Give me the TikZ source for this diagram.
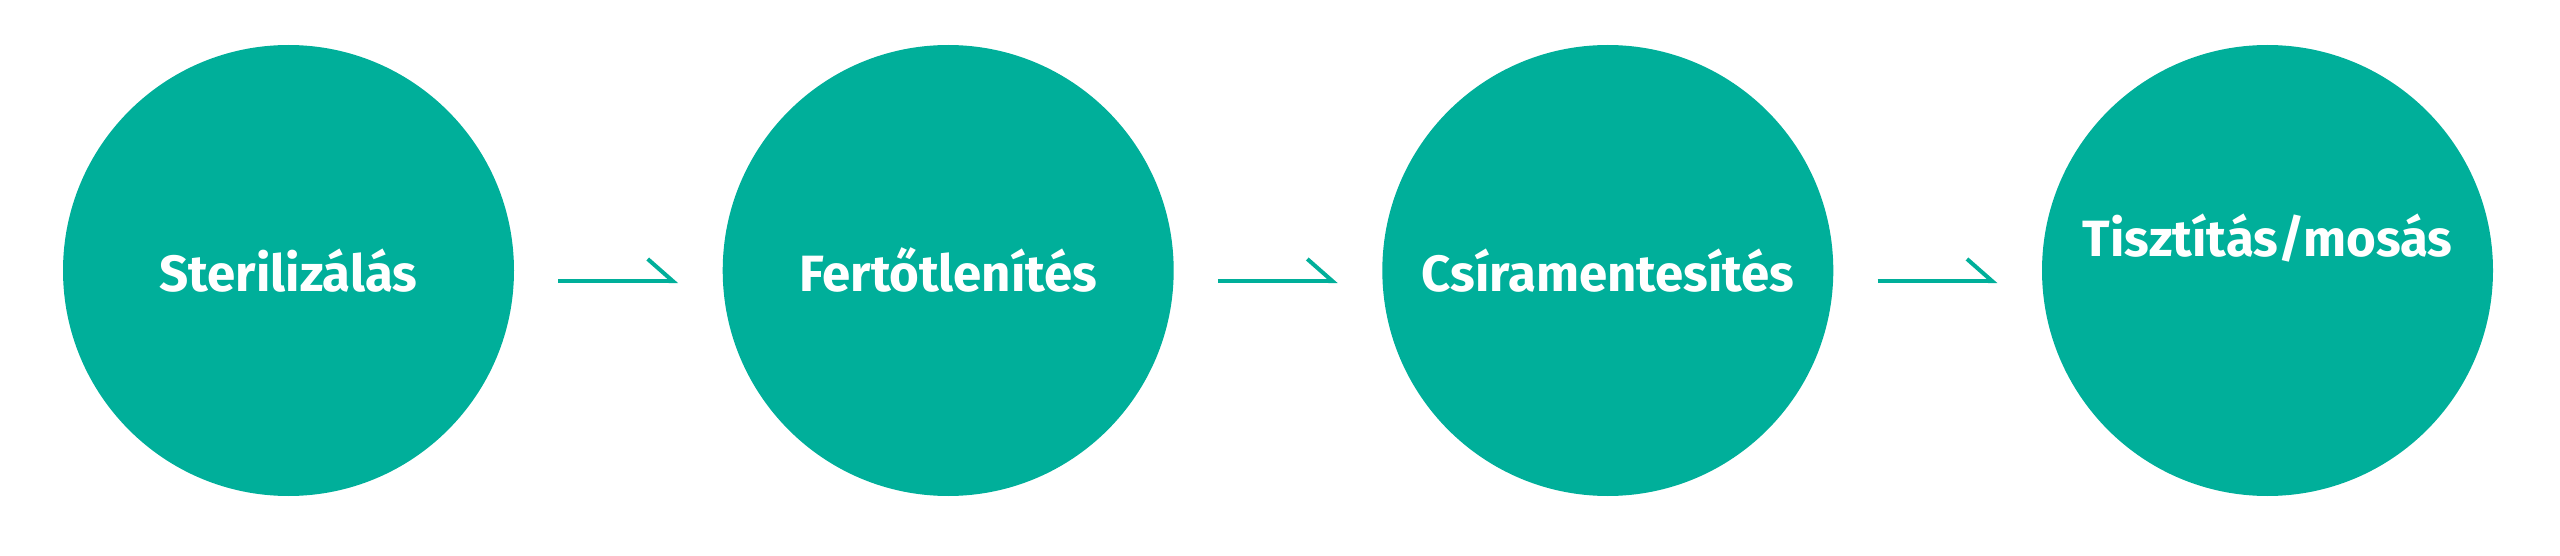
\documentclass[tikz,border=0pt]{standalone}
\usepackage{fontspec}
\setmainfont{Fira Sans}
\usetikzlibrary{arrows.meta}
\definecolor{stepteal}{RGB}{0,175,154}
\tikzset{
  stepdisc/.style={circle, fill=stepteal, minimum size=451pt, inner sep=0pt},
  steplabel/.style={font=\fontsize{51}{55}\selectfont\bfseries, text=white, anchor=base, inner sep=0pt},
  flow/.style={draw=stepteal, line width=4pt, -{Straight Barb[left, length=25pt, width=44pt]}, shorten <=44pt, shorten >=44.5pt}
}
\begin{document}
\begin{tikzpicture}[x=1pt,y=-1pt]
\useasboundingbox (0,0) rectangle (2560,556);
% the four steps
\node[stepdisc] (steril) at (288.5,270.5) {};
\node[steplabel] (sterillbl) at ([yshift=-20.5pt]steril.center) {Sterilizálás};
\node[stepdisc] (fertot) at (948.2,270.5) {};
\node[steplabel] (fertotlbl) at ([yshift=-20.5pt]fertot.center) {Fertőtlenítés};
\node[stepdisc] (csira) at (1607.8,270.5) {};
\node[steplabel] (csiralbl) at ([yshift=-20.5pt]csira.center) {Csíramentesítés};
\node[stepdisc] (tiszt) at (2267.5,270.5) {};
\node[steplabel] (tisztlbl) at ([yshift=13.5pt]tiszt.center) {Tisztítás/mosás};
% arrows between them
\draw[flow] ([yshift=-10.5pt]steril.east) -- ([yshift=-10.5pt]fertot.west);
\draw[flow] ([yshift=-10.5pt]fertot.east) -- ([yshift=-10.5pt]csira.west);
\draw[flow] ([yshift=-10.5pt]csira.east) -- ([yshift=-10.5pt]tiszt.west);
\end{tikzpicture}
\end{document}
